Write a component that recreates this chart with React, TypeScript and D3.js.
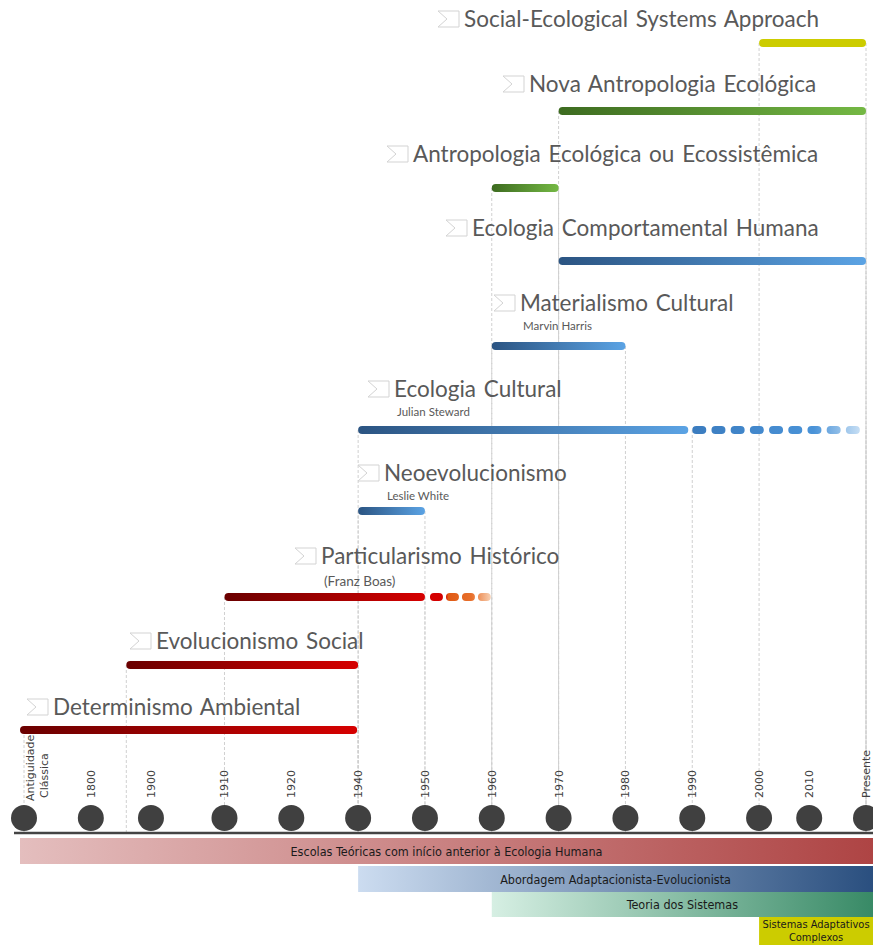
import { scaleLinear } from "d3";

// timeline of schools of thought in human ecology, drawn as gradient bars over a dotted axis

const W = 873;
const H = 945;

// axis ticks (Antiguidade and Presente get nominal years so the scale stays monotone)
const TICK_LABELS = ["Antiguidade Clássica", "1800", "1900", "1910", "1920", "1940", "1950", "1960", "1970", "1980", "1990", "2000", "2010", "Presente"];
const TICK_YEARS = [1700, 1800, 1900, 1910, 1920, 1940, 1950, 1960, 1970, 1980, 1990, 2000, 2010, 2020];
// the original axis is not evenly spaced, so each tick gets a slot
const TICK_SLOTS = [0, 1, 1.9, 3, 4, 5, 6, 7, 8, 9, 10, 11, 11.75, 12.6];

// schools, top to bottom
const SCHOOLS = [
  "Social-Ecological Systems Approach",
  "Nova Antropologia Ecológica",
  "Antropologia Ecológica ou Ecossistêmica",
  "Ecologia Comportamental Humana",
  "Materialismo Cultural",
  "Ecologia Cultural",
  "Neoevolucionismo",
  "Particularismo Histórico",
  "Evolucionismo Social",
  "Determinismo Ambiental",
];
const AUTHORS = ["", "", "", "", "Marvin Harris", "Julian Steward", "Leslie White", "(Franz Boas)", "", ""];
const START = [2000, 1970, 1960, 1970, 1960, 1940, 1940, 1910, 1859, 1700];
const END = [2020, 2020, 1970, 2020, 1980, 1990, 1950, 1950, 1940, 1940];
// dotted continuation (0 = none)
const FADE_END = [0, 0, 0, 0, 0, 2020, 0, 1960, 0, 0];
const FAMILY = ["yellow", "green", "green", "blue", "blue", "blue", "blue", "red", "red", "red"];

// approaches in the bottom bands
const BANDS = ["Escolas Teóricas com início anterior à Ecologia Humana", "Abordagem Adaptacionista-Evolucionista", "Teoria dos Sistemas", "Sistemas Adaptativos|Complexos"];
const BAND_START = [1700, 1940, 1960, 2000];

// layout (pixels), kept apart from the data
const ROW_Y = [43, 111, 188, 261, 346, 430, 511, 597, 665, 730];
const TITLE_Y = [27, 92, 162, 236, 311, 397, 481, 564, 649, 715];
const ICON_X = [438, 503, 387, 446, 494, 368, 358, 295, 130, 27];

const GRAD: Record<string, [string, string]> = {
  red: ["#6a0000", "#d60000"],
  blue: ["#2b5482", "#5ba3e4"],
  green: ["#3d6b20", "#74b844"],
  yellow: ["#cccc00", "#cccc00"],
};
const BAND_GRAD: [string, string][] = [
  ["#e4bebe", "#ae4444"],
  ["#ccdcf0", "#2a4f7f"],
  ["#d6efe3", "#388a66"],
  ["#cccc00", "#cccc00"],
];

const AXIS_Y = 833;
const DOT_Y = 818;
const BAR_H = 8;
const BAND_Y = [838, 866, 892, 917];
const BAND_H = [26, 26, 25, 28];

const TITLE_FONT = "Lato, 'Open Sans', sans-serif";
const TICK_FONT = "'DejaVu Sans', Verdana, sans-serif";
const BAND_FONT = "'Liberation Sans Narrow', 'DejaVu Sans Condensed', sans-serif";

const slotToX = scaleLinear().domain([0, 12.6]).range([24, 866]);
const yearToSlot = scaleLinear().domain(TICK_YEARS).range(TICK_SLOTS);
const x = (year: number) => slotToX(yearToSlot(year));

const Icon = ({ x0, y0 }: { x0: number; y0: number }) => (
  <path
    d={`M${x0},${y0} L${x0 + 21},${y0} L${x0 + 21},${y0 + 16} L${x0},${y0 + 16} L${x0 + 9},${y0 + 8} Z`}
    fill="#fff"
    stroke="#d3d3d3"
    strokeWidth={1}
  />
);

export default function App() {
  // vertical guides start at every bar end and run down to the axis
  const guides: { gx: number; gy: number }[] = [];
  SCHOOLS.forEach((_, i) => {
    guides.push({ gx: x(START[i]), gy: ROW_Y[i] });
    guides.push({ gx: x(END[i]), gy: ROW_Y[i] });
    if (FADE_END[i]) guides.push({ gx: x(FADE_END[i]), gy: ROW_Y[i] });
  });

  return (
    <div style={{ position: "absolute", left: 0, top: 0 }}>
      <svg width={W} height={H} style={{ display: "block" }}>
        <defs>
          {SCHOOLS.map((_, i) => (
            <linearGradient key={i} id={`bar${i}`} x1="0" x2="1" y1="0" y2="0">
              <stop offset="0" stopColor={GRAD[FAMILY[i]][0]} />
              <stop offset="1" stopColor={GRAD[FAMILY[i]][1]} />
            </linearGradient>
          ))}
          {SCHOOLS.map((_, i) =>
            FADE_END[i] ? (
              <linearGradient
                key={i}
                id={`fade${i}`}
                gradientUnits="userSpaceOnUse"
                x1={x(END[i])}
                x2={x(FADE_END[i])}
                y1={0}
                y2={0}
              >
                {FAMILY[i] === "red" ? (
                  <>
                    <stop offset="0" stopColor="#d40000" />
                    <stop offset="0.3" stopColor="#d40000" />
                    <stop offset="0.35" stopColor="#e05a14" />
                    <stop offset="0.7" stopColor="#e8702c" />
                    <stop offset="1" stopColor="#f8d4b8" />
                  </>
                ) : (
                  <>
                    <stop offset="0" stopColor="#3b7cbf" />
                    <stop offset="0.7" stopColor="#4a93d8" />
                    <stop offset="1" stopColor="#d6e8f8" />
                  </>
                )}
              </linearGradient>
            ) : null
          )}
          {BANDS.map((_, i) => (
            <linearGradient key={i} id={`band${i}`} x1="0" x2="1" y1="0" y2="0">
              <stop offset="0" stopColor={BAND_GRAD[i][0]} />
              <stop offset="1" stopColor={BAND_GRAD[i][1]} />
            </linearGradient>
          ))}
        </defs>

        {/* guides */}
        {guides.map((g, i) => (
          <line
            key={i}
            x1={g.gx}
            x2={g.gx}
            y1={g.gy}
            y2={AXIS_Y}
            stroke="#d0d0d0"
            strokeWidth={1}
            strokeDasharray="3,2"
          />
        ))}

        {/* bars and titles */}
        {SCHOOLS.map((name, i) => {
          const x0 = x(START[i]);
          const x1 = x(END[i]);
          const first = i === SCHOOLS.length - 1;
          const solidEnd = FADE_END[i] && FAMILY[i] === "blue" ? x1 - 4 : x1;
          return (
            <g key={name}>
              <rect
                x={first ? x0 - 4 : x0}
                y={ROW_Y[i] - BAR_H / 2}
                width={solidEnd - x0 + (first ? 3 : 0)}
                height={BAR_H}
                rx={4}
                fill={`url(#bar${i})`}
              />
              {FADE_END[i] ? (
                <line
                  x1={FAMILY[i] === "red" ? x1 + 9 : x1 + 4}
                  x2={x(FADE_END[i]) - 5}
                  y1={ROW_Y[i]}
                  y2={ROW_Y[i]}
                  stroke={`url(#fade${i})`}
                  strokeWidth={BAR_H}
                  strokeLinecap="round"
                  strokeDasharray={FAMILY[i] === "red" ? "5,11" : "6,13.2"}
                />
              ) : null}
              <Icon x0={ICON_X[i]} y0={TITLE_Y[i] - 16} />
              <text
                x={ICON_X[i] + 26}
                y={TITLE_Y[i]}
                fontFamily={TITLE_FONT}
                fontSize={22.5}
                wordSpacing={2}
                fill="#595959"
              >
                {name}
              </text>
              {AUTHORS[i] ? (
                <text
                  x={ICON_X[i] + 29}
                  y={TITLE_Y[i] + (AUTHORS[i].startsWith("(") ? 22 : 19)}
                  fontFamily={TITLE_FONT}
                  fontSize={AUTHORS[i].startsWith("(") ? 13.5 : 11.5}
                  fill="#595959"
                >
                  {AUTHORS[i]}
                </text>
              ) : null}
            </g>
          );
        })}

        {/* axis */}
        <line x1={14} x2={W} y1={AXIS_Y} y2={AXIS_Y} stroke="#444" strokeWidth={2.5} />
        {TICK_LABELS.map((label, i) => {
          const cx = x(TICK_YEARS[i]);
          const lines = i === 0 ? ["Antiguidade", "Clássica"] : [label];
          return (
            <g key={label}>
              <circle cx={cx} cy={DOT_Y} r={13} fill="#404040" />
              {lines.map((l, k) => (
                <text
                  key={l}
                  transform={`translate(${cx + 4 + (i === 0 ? 6 + k * 14 : 0)},${i === 0 ? 801 - k * 3 : 798}) rotate(-90)`}
                  fontFamily={TICK_FONT}
                  fontSize={11}
                  fill="#404040"
                >
                  {l}
                </text>
              ))}
            </g>
          );
        })}

        {/* bottom bands */}
        {BANDS.map((b, i) => {
          const bx = i === 0 ? x(BAND_START[i]) - 4 : x(BAND_START[i]);
          const parts = b.split("|");
          const cx = (bx + W) / 2;
          return (
            <g key={b}>
              <rect x={bx} y={BAND_Y[i]} width={W - bx} height={BAND_H[i]} fill={`url(#band${i})`} />
              {parts.map((p, k) => (
                <text
                  key={p}
                  x={cx}
                  y={parts.length > 1 ? BAND_Y[i] + 11 + k * 13 : BAND_Y[i] + BAND_H[i] / 2 + 4.5}
                  textAnchor="middle"
                  fontFamily={BAND_FONT}
                  fontSize={parts.length > 1 ? 11 : 12.5}
                  fill="#1a1a1a"
                >
                  {p}
                </text>
              ))}
            </g>
          );
        })}
      </svg>
    </div>
  );
}
